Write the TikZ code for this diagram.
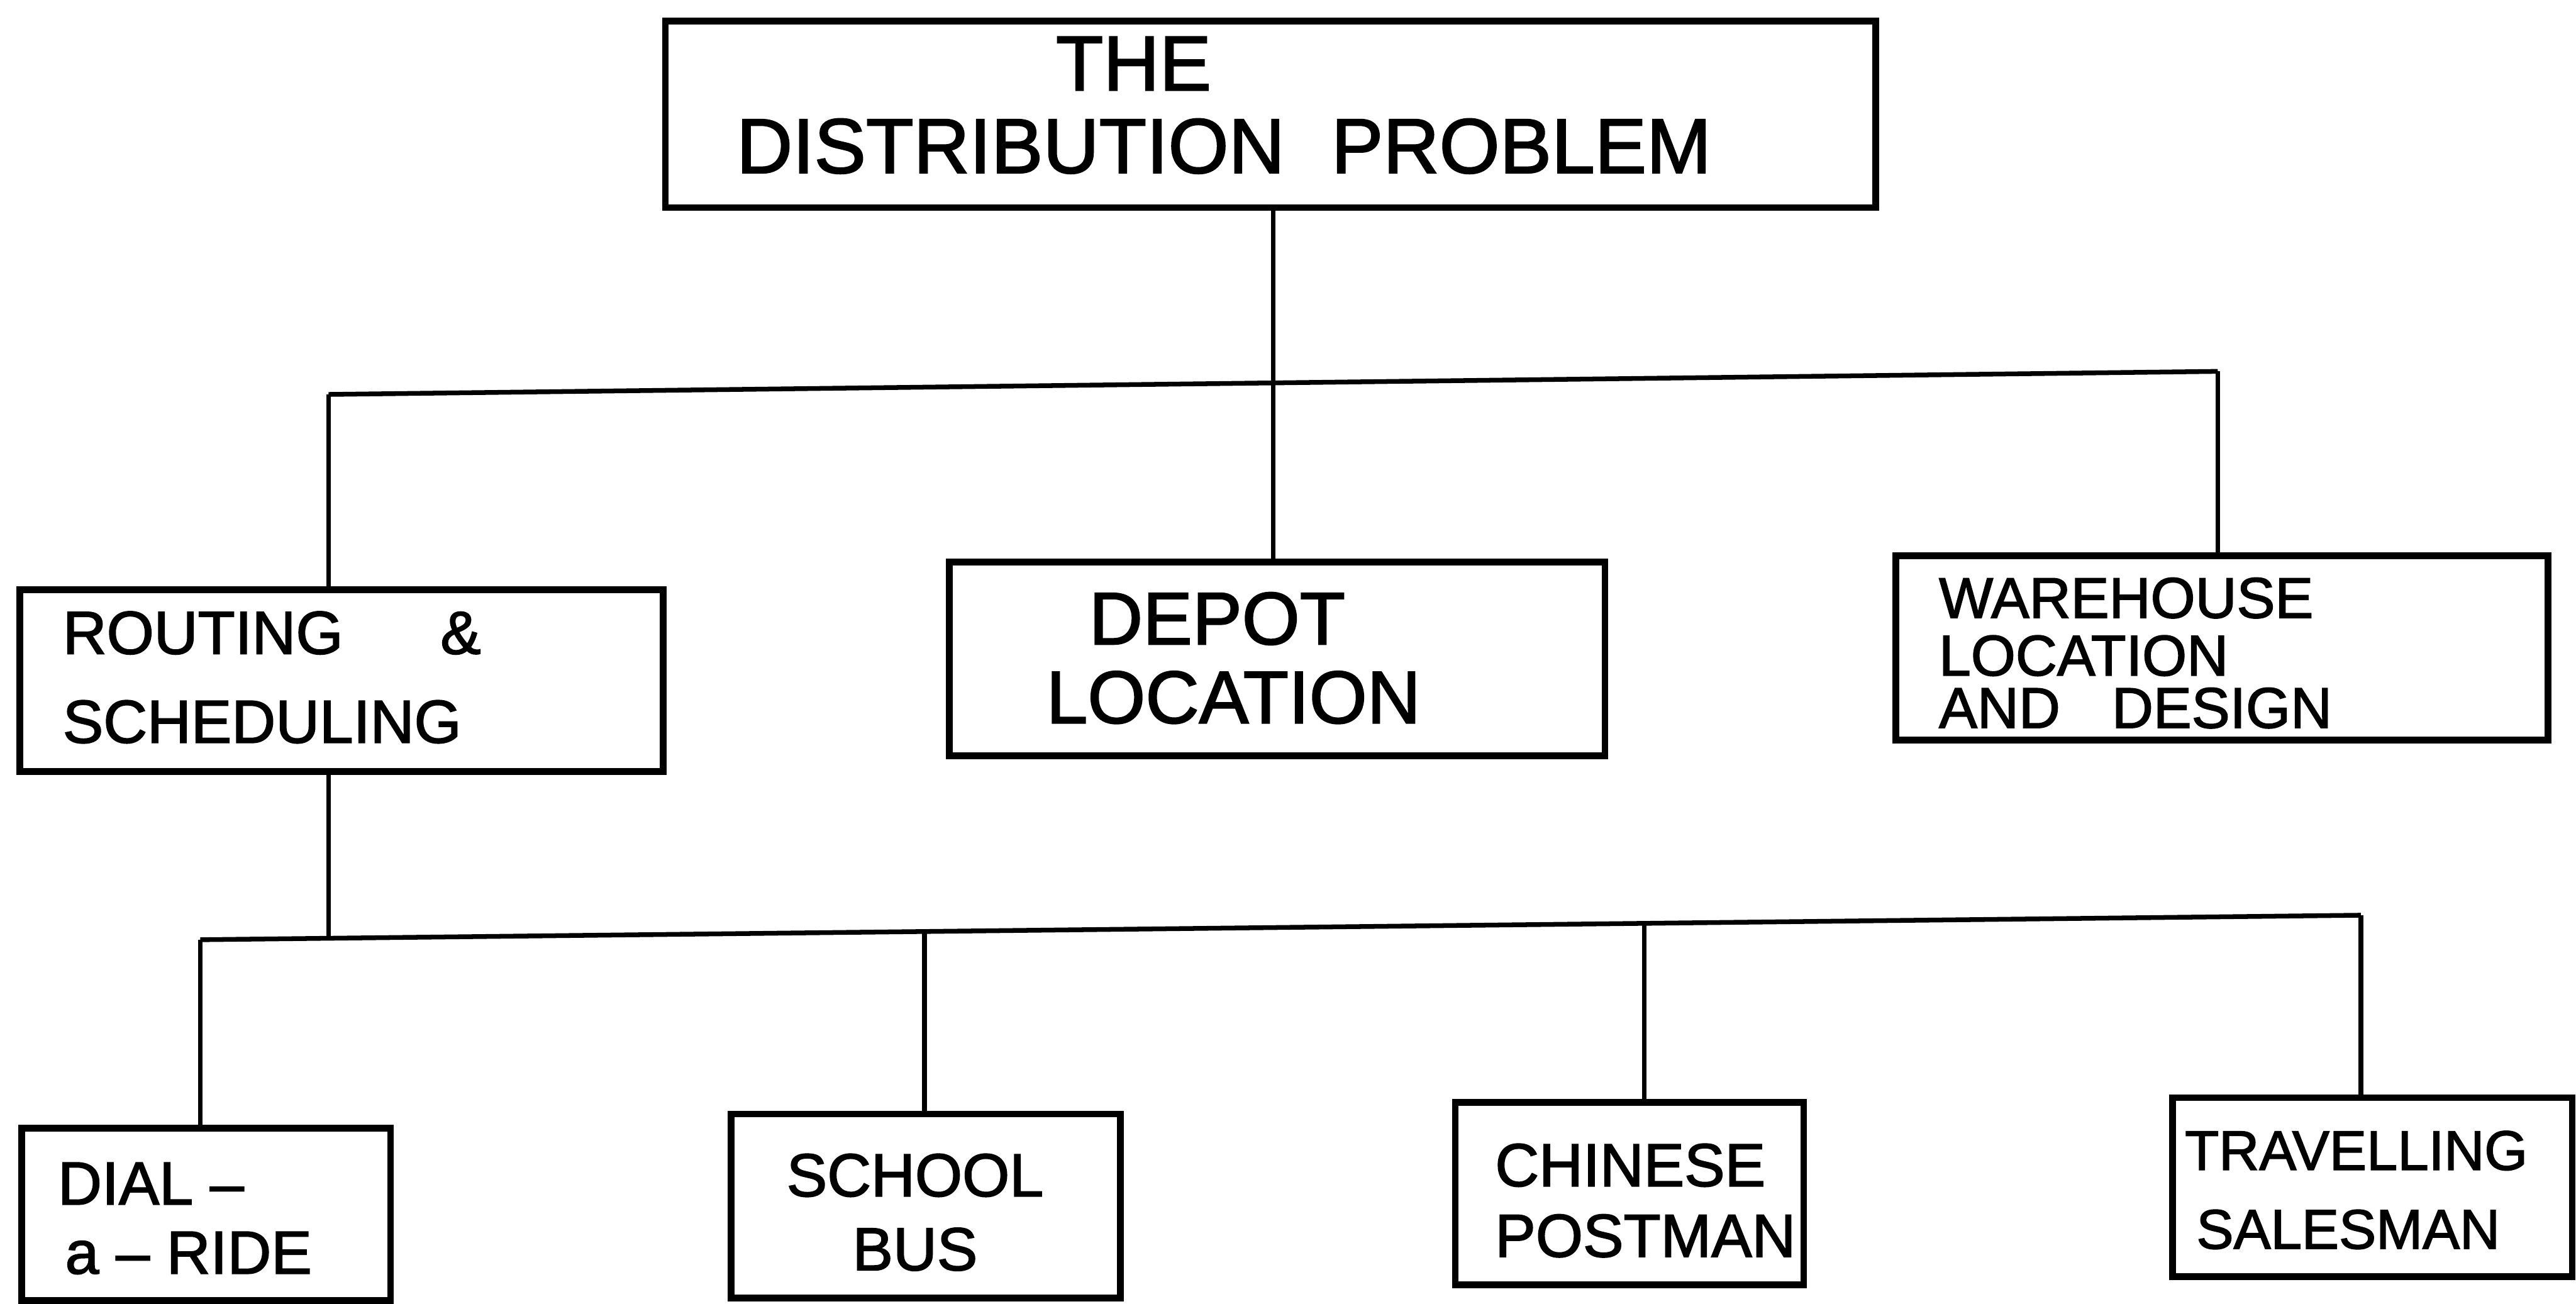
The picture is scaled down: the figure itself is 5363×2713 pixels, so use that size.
\documentclass[tikz,border=0pt]{standalone}
\usepackage{fontspec}
\setmainfont[FakeBold=1.8]{Liberation Sans}
\begin{document}
\begin{tikzpicture}[x=0.01cm,y=-0.01cm,
  box/.style={draw, line width=4pt, rectangle, inner sep=0pt},
  conn/.style={line width=2.8pt},
  lbl/.style={inner sep=0pt, anchor=base west},
  lblc/.style={inner sep=0pt, anchor=base},
  fbig/.style={font=\fontsize{46}{50}\selectfont},
  fdep/.style={font=\fontsize{44}{48}\selectfont},
  fmid/.style={font=\fontsize{36}{40}\selectfont},
  fware/.style={font=\fontsize{34}{38}\selectfont},
  ftrav/.style={font=\fontsize{33}{37}\selectfont}]
\useasboundingbox (0,0) rectangle (5363,2713);
\fill[white] (0,0) rectangle (5363,2713);

% boxes
\node[box, minimum width=25.18cm, minimum height=3.88cm] (top) at (2645,238) {};
\node[box, minimum width=13.38cm, minimum height=3.78cm] (rout) at (711,1417) {};
\node[box, minimum width=13.64cm, minimum height=4.03cm] (depot) at (2659,1371.5) {};
\node[box, minimum width=13.57cm, minimum height=3.83cm] (ware) at (4625.5,1348.5) {};
\node[box, minimum width=7.68cm, minimum height=3.59cm] (dial) at (429,2527.5) {};
\node[box, minimum width=8.10cm, minimum height=3.83cm] (school) at (1927,2510.5) {};
\node[box, minimum width=7.25cm, minimum height=3.79cm] (chin) at (3392.5,2484.5) {};
\node[box, minimum width=8.32cm, minimum height=3.72cm] (trav) at (4939,2471) {};

% texts
\node[lblc, fbig] (t1) at (2360,188) {THE};
\node[lblc, fbig] (t2) at (2548,360) {DISTRIBUTION\hspace{0.6em}PROBLEM};
\node[lbl, fmid] (r1) at (130,1361) {ROUTING\hspace{1.6em}\&};
\node[lbl, fmid] (r2) at (130,1546) {SCHEDULING};
\node[lblc, fdep] (d1) at (2534,1341) {DEPOT};
\node[lblc, fdep] (d2) at (2568,1505) {LOCATION};
\node[lbl, fware] (w1) at (4036,1286) {WAREHOUSE};
\node[lbl, fware] (w2) at (4036,1406) {LOCATION};
\node[lbl, fware] (w3) at (4036,1515) {AND\hspace{0.9em}DESIGN};
\node[lbl, fmid] (a1) at (120,2507) {DIAL –};
\node[lbl, fmid] (a2) at (135,2651) {a – RIDE};
\node[lblc, fmid] (s1) at (1905,2490) {SCHOOL};
\node[lblc, fmid] (s2) at (1905,2644) {BUS};
\node[lbl, fmid] (c1) at (3112,2469) {CHINESE};
\node[lbl, fmid] (c2) at (3112,2616) {POSTMAN};
\node[lbl, ftrav] (v1) at (4548,2435) {TRAVELLING};
\node[lbl, ftrav] (v2) at (4572,2599) {SALESMAN};

% junction coordinates
\coordinate (b1L) at (684,821);
\coordinate (b1R) at (4617,773);
\coordinate (b2L) at (417,1956);
\coordinate (b2R) at (4915,1905);
\coordinate (j2) at (684,1953);
\coordinate (js) at (1925,1939);
\coordinate (jc) at (3423,1922);

% connectors
\draw[conn] (top.south -| 2651,0) -- (depot.north -| 2651,0);
\draw[conn] (b1L) -- (b1R);
\draw[conn] (b1L) -- (b1L |- rout.north);
\draw[conn] (b1R) -- (b1R |- ware.north);
\draw[conn] (rout.south -| j2) -- (j2);
\draw[conn] (b2L) -- (b2R);
\draw[conn] (b2L) -- (b2L |- dial.north);
\draw[conn] (js) -- (js |- school.north);
\draw[conn] (jc) -- (jc |- chin.north);
\draw[conn] (b2R) -- (b2R |- trav.north);
\end{tikzpicture}
\end{document}
